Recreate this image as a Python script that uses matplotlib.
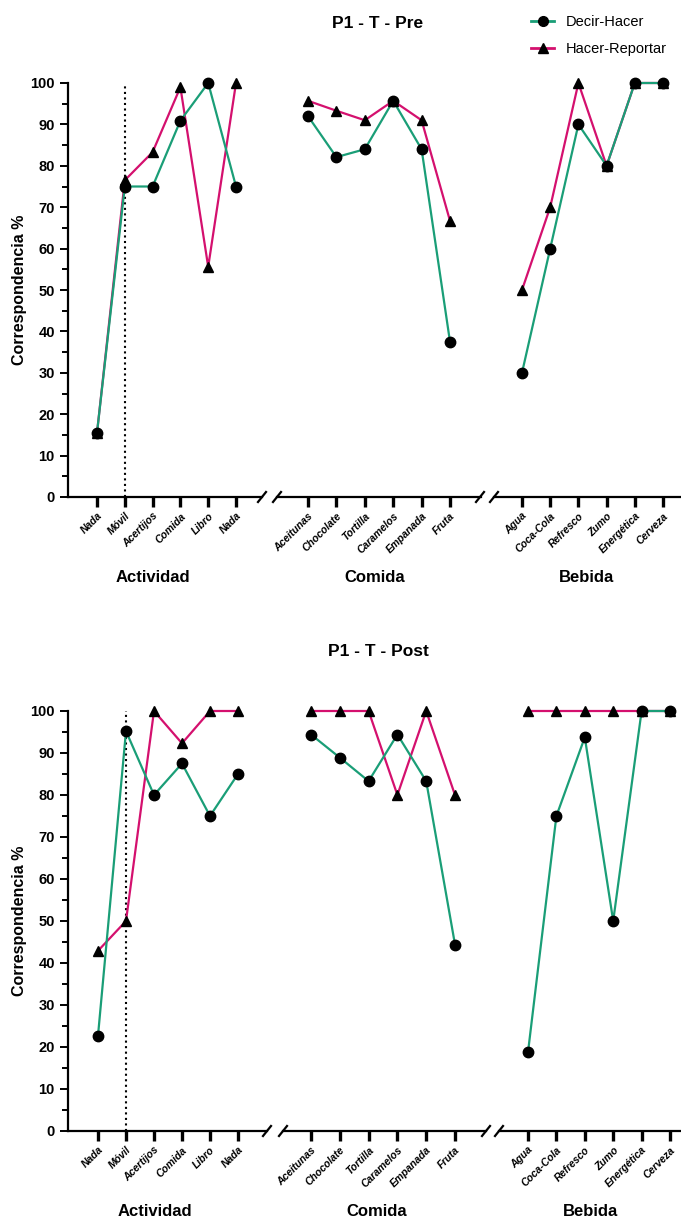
import matplotlib
matplotlib.use('Agg')
import matplotlib.pyplot as plt
from matplotlib.lines import Line2D

plt.rcParams['font.family'] = ['Liberation Sans', 'DejaVu Sans']

W, H = 681, 1220

actividad = ['Nada', 'Móvil', 'Acertijos', 'Comida', 'Libro', 'Nada']
comida = ['Aceitunas', 'Chocolate', 'Tortilla', 'Caramelos', 'Empanada', 'Fruta']
bebida = ['Agua', 'Coca-Cola', 'Refresco', 'Zumo', 'Energética', 'Cerveza']
grupos = ['Actividad', 'Comida', 'Bebida']

# P1 - T - Pre
pre_dh_act = [15.5, 75, 75, 90.9, 100, 75]
pre_hr_act = [15.5, 76.5, 83.3, 99, 55.6, 100]
pre_dh_com = [92, 82.1, 84, 95.7, 84, 37.5]
pre_hr_com = [95.7, 93.3, 91, 95.7, 91, 66.7]
pre_dh_beb = [30, 60, 90, 80, 100, 100]
pre_hr_beb = [50, 70, 100, 80, 100, 100]

# P1 - T - Post
post_dh_act = [22.7, 95.2, 80, 87.5, 75, 85]
post_hr_act = [42.9, 50, 100, 92.3, 100, 100]
post_dh_com = [94.4, 88.9, 83.3, 94.4, 83.3, 44.4]
post_hr_com = [100, 100, 100, 80, 100, 80]
post_dh_beb = [18.75, 75, 93.75, 50, 100, 100]
post_hr_beb = [100, 100, 100, 100, 100, 100]

VERDE = '#1a9e77'
ROSA = '#d4106e'


def fx(px):
    return px / W


def fy(py):
    return 1 - py / H


def slash(fig, xpx, ypx):
    fig.add_artist(Line2D([fx(xpx - 4), fx(xpx + 4)], [fy(ypx + 5), fy(ypx - 5)],
                          color='black', lw=1.6, transform=fig.transFigure))


def panel(fig, titulo, y0, y100, segs, breaks, datos, ygrupo, xgrupo):
    axes = []
    for i, (L, R, a, b) in enumerate(segs):
        ax = fig.add_axes([fx(L), fy(y0), fx(R) - fx(L), fy(y100) - fy(y0)])
        s = (b - a) / 5
        ax.set_xlim((L - a) / s, (R - a) / s)
        ax.set_ylim(0, 100)
        for sp in ['top', 'right']:
            ax.spines[sp].set_visible(False)
        ax.spines['bottom'].set_linewidth(1.6)
        if i == 0:
            ax.spines['left'].set_linewidth(1.6)
            ax.set_yticks(range(0, 101, 10))
            ax.set_yticks(range(5, 100, 10), minor=True)
            ax.tick_params(axis='y', which='major', length=6, width=1.4, labelsize=10.5)
            ax.tick_params(axis='y', which='minor', length=4, width=1.4)
            for t in ax.get_yticklabels():
                t.set_fontweight('bold')
            ax.set_ylabel('Correspondencia %', fontsize=11.5, fontweight='bold')
            ax.yaxis.set_label_coords(-(L - 27) / (R - L), 0.5)
        else:
            ax.spines['left'].set_visible(False)
            ax.set_yticks([])
        cats, dh, hr = datos[i]
        x = list(range(len(cats)))
        ax.set_xticks(x)
        ax.set_xticklabels(cats, rotation=45, ha='right', rotation_mode='anchor',
                           fontsize=7.5, fontweight='bold', fontstyle='italic')
        ax.tick_params(axis='x', length=7, width=2.4, pad=3)
        ax.plot(x, hr, color=ROSA, lw=1.6, zorder=2, clip_on=False)
        ax.plot(x, dh, color=VERDE, lw=1.6, zorder=2, clip_on=False)
        ax.plot(x, hr, ls='none', marker='^', ms=7.5, color='black', zorder=3, clip_on=False)
        ax.plot(x, dh, ls='none', marker='o', ms=7.5, color='black', zorder=4, clip_on=False)
        if i == 0:
            ax.plot([1, 1], [0, 100], color='black', ls=':', lw=1.5, zorder=1, clip_on=False)
        fig.text(fx(xgrupo[i]), fy(ygrupo), grupos[i], ha='center', va='center',
                 fontsize=12, fontweight='bold')
        axes.append(ax)
    for xb in breaks:
        slash(fig, xb[0], y0)
        slash(fig, xb[1], y0)
    fig.text(fx(378), fy(y100 - 60), titulo, ha='center', va='center',
             fontsize=12.5, fontweight='bold')
    return axes


def main() -> None:
    fig = plt.figure(figsize=(W / 100, H / 100), dpi=100)

    panel(fig, 'P1 - T - Pre', 497, 83,
          [(68, 262, 97, 236), (277, 481, 308, 450), (494, 681, 522, 663)],
          [(262, 277), (480, 494)],
          [(actividad, pre_dh_act, pre_hr_act),
           (comida, pre_dh_com, pre_hr_com),
           (bebida, pre_dh_beb, pre_hr_beb)],
          577, [153, 375, 586])

    panel(fig, 'P1 - T - Post', 1131, 711,
          [(68, 267, 98, 238), (283, 486, 311, 455), (499, 681, 528, 670)],
          [(267, 283), (486, 499)],
          [(actividad, post_dh_act, post_hr_act),
           (comida, post_dh_com, post_hr_com),
           (bebida, post_dh_beb, post_hr_beb)],
          1211, [155, 377, 590])

    handles = [Line2D([], [], color=VERDE, lw=2, marker='o', ms=7, mfc='black', mec='black'),
               Line2D([], [], color=ROSA, lw=2, marker='^', ms=7, mfc='black', mec='black')]
    fig.legend(handles, ['Decir-Hacer', 'Hacer-Reportar'], loc='upper left',
               bbox_to_anchor=(fx(518), fy(2)), frameon=False, fontsize=10.5,
               handlelength=1.6, handletextpad=0.8, labelspacing=0.9)

    fig.savefig('out.png', dpi=100)


if __name__ == "__main__":
    main()
